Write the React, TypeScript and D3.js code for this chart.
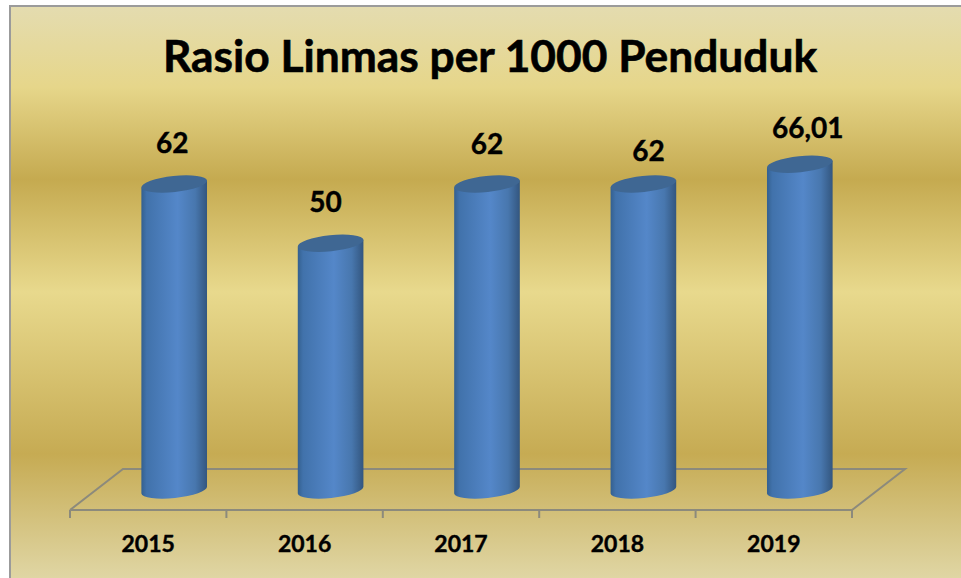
import React, { useEffect, useRef } from 'react';
import * as d3 from 'd3';

const years = ['2015', '2016', '2017', '2018', '2019'];
const values = [62, 50, 62, 62, 66.01];
const valueLabels = ['62', '50', '62', '62', '66,01'];
// data labels were dragged by hand in the original
const labelNudgeX = [-2, -5, 0, 5, 8];
const labelNudgeY = [1, 1, 2, 9, 6];

const bgStops: [number, string][] = [
  [0, '#e4dcb0'],
  [0.14, '#e6d68a'],
  [0.3, '#c5aa50'],
  [0.495, '#e8d98d'],
  [0.775, '#c6ab53'],
  [1, '#e1d8a8'],
];

const App = () => {
  const ref = useRef<SVGSVGElement>(null);

  useEffect(() => {
    const width = 961;
    const height = 578;
    const floor = { left: 70, right: 852, front: 510, back: 469, depth: 53 };
    const rx = 33;
    const ry = 8;
    const tilt = -6;

    const svg = d3.select(ref.current);
    svg.selectAll('*').remove();
    svg.attr('width', width).attr('height', height);

    const defs = svg.append('defs');
    const bg = defs
      .append('linearGradient')
      .attr('id', 'bg')
      .attr('x1', 0)
      .attr('y1', 0)
      .attr('x2', 0)
      .attr('y2', 1);
    bgStops.forEach(([o, c]) => bg.append('stop').attr('offset', o).attr('stop-color', c));

    const body = defs.append('linearGradient').attr('id', 'body');
    [
      [0, '#34608f'],
      [0.08, '#4172ab'],
      [0.55, '#5487c9'],
      [0.82, '#4877ae'],
      [1, '#33567f'],
    ].forEach(([o, c]) => body.append('stop').attr('offset', o).attr('stop-color', c));

    svg
      .append('rect')
      .attr('x', 10)
      .attr('y', 6)
      .attr('width', width)
      .attr('height', height)
      .attr('fill', 'url(#bg)')
      .attr('stroke', '#9b9b9b')
      .attr('stroke-width', 2);

    const x = d3
      .scaleBand()
      .domain(years)
      .range([floor.left, floor.right]);

    const y = d3
      .scaleLinear()
      .domain([0, 62])
      .range([490, 184]);

    const lineColor = '#8c8a7c';
    const ticks = years.map(d => x(d)!).concat(floor.right);

    svg
      .append('path')
      .attr(
        'd',
        d3.line()([
          [floor.left, floor.front],
          [floor.right, floor.front],
          [floor.right + floor.depth, floor.back],
          [floor.left + floor.depth, floor.back],
          [floor.left, floor.front],
        ])
      )
      .attr('fill', 'none')
      .attr('stroke', lineColor)
      .attr('stroke-width', 2);

    svg
      .append('g')
      .selectAll('line')
      .data(ticks)
      .join('line')
      .attr('x1', d => d)
      .attr('x2', d => d)
      .attr('y1', floor.front)
      .attr('y2', floor.front + 8)
      .attr('stroke', lineColor)
      .attr('stroke-width', 2);

    const dx = rx * Math.cos((tilt * Math.PI) / 180);
    const dy = rx * Math.sin((tilt * Math.PI) / 180);
    const cx = (d: string) => x(d)! + x.bandwidth() / 2 + 26;

    const bars = svg
      .append('g')
      .selectAll('g')
      .data(years.map((year, i) => ({ year, value: values[i], i })))
      .join('g');

    bars
      .append('path')
      .attr('d', d => {
        const c = cx(d.year);
        const top = y(d.value);
        const base = y(0);
        return (
          `M${c - dx},${top - dy}` +
          `L${c - dx},${base - dy}` +
          `A${rx},${ry} ${tilt} 0 0 ${c + dx},${base + dy}` +
          `L${c + dx},${top + dy}Z`
        );
      })
      .attr('fill', 'url(#body)');

    bars
      .append('ellipse')
      .attr('cx', d => cx(d.year))
      .attr('cy', d => y(d.value))
      .attr('rx', rx)
      .attr('ry', ry)
      .attr('transform', d => `rotate(${tilt} ${cx(d.year)} ${y(d.value)})`)
      .attr('fill', '#3f6793');

    const font = 'Lato, sans-serif';

    bars
      .append('text')
      .attr('x', d => cx(d.year) + labelNudgeX[d.i])
      .attr('y', d => y(d.value) - 32 + labelNudgeY[d.i])
      .attr('text-anchor', 'middle')
      .attr('font-family', font)
      .attr('font-weight', 700)
      .attr('font-size', 28)
      .attr('stroke', '#000')
      .attr('stroke-width', 0.4)
      .text(d => valueLabels[d.i]);

    svg
      .append('g')
      .selectAll('text')
      .data(years)
      .join('text')
      .attr('x', d => x(d)! + x.bandwidth() / 2)
      .attr('y', 552)
      .attr('text-anchor', 'middle')
      .attr('font-family', font)
      .attr('font-weight', 700)
      .attr('font-size', 23)
      .attr('stroke', '#000')
      .attr('stroke-width', 0.4)
      .text(d => d);

    svg
      .append('text')
      .attr('x', 490)
      .attr('y', 72)
      .attr('text-anchor', 'middle')
      .attr('font-family', font)
      .attr('font-weight', 700)
      .attr('font-size', 44.3)
      .attr('stroke', '#000')
      .attr('stroke-width', 0.6)
      .text('Rasio Linmas per 1000 Penduduk');
  }, []);

  return <svg ref={ref} style={{ position: 'absolute', left: 0, top: 0, display: 'block' }}></svg>;
};

export default App;
